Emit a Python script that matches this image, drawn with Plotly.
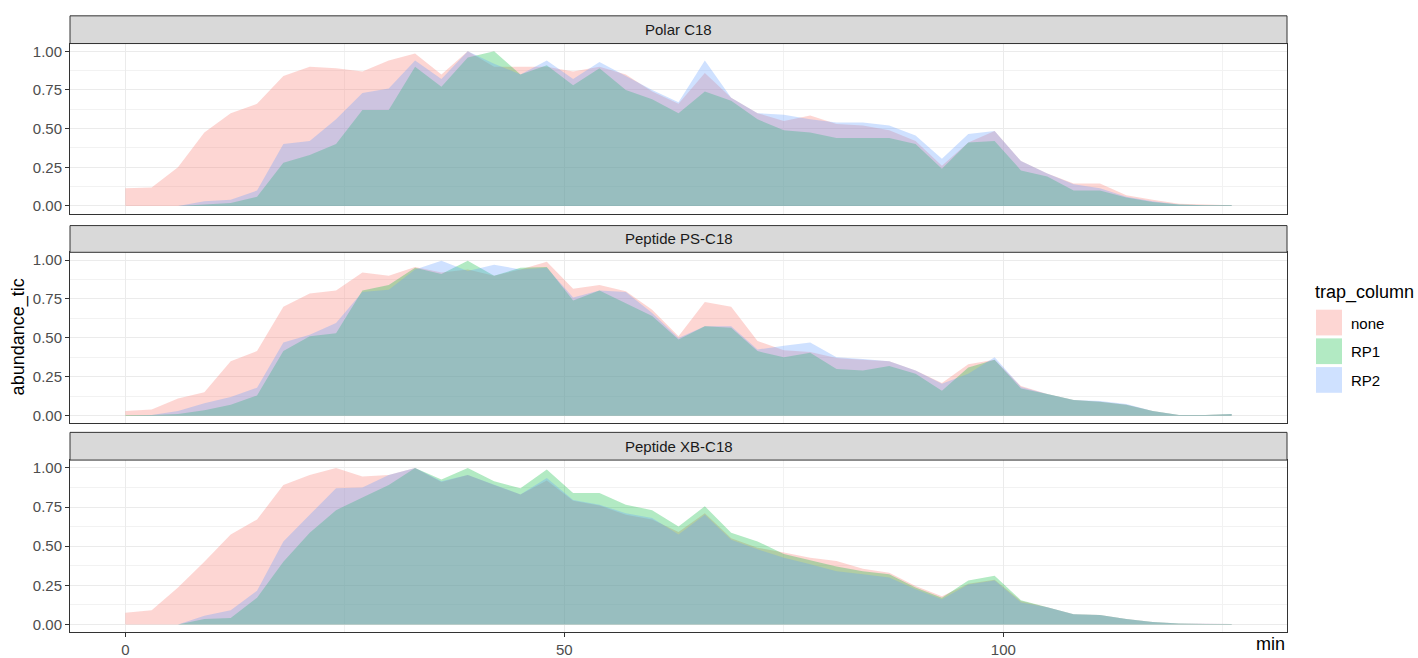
import plotly.graph_objects as go

W, H = 1418, 658

# ---------------- data ----------------
minutes = [0, 3, 6, 9, 12, 15, 18, 21, 24, 27, 30, 33, 36, 39, 42, 45, 48, 51, 54, 57,
           60, 63, 66, 69, 72, 75, 78, 81, 84, 87, 90, 93, 96, 99, 102, 105, 108, 111,
           114, 117, 120, 123, 126]

facets = ["Polar C18", "Peptide PS-C18", "Peptide XB-C18"]
trap_columns = ["none", "RP1", "RP2"]

polar_none = [0.115, 0.12, 0.25, 0.475, 0.60, 0.66, 0.84, 0.90, 0.89, 0.87, 0.94, 0.985, 0.85, 1.0,
              0.90, 0.90, 0.90, 0.87, 0.90, 0.85, 0.74, 0.66, 0.86, 0.70, 0.60, 0.55, 0.585, 0.53,
              0.52, 0.49, 0.42, 0.26, 0.41, 0.485, 0.29, 0.21, 0.145, 0.145, 0.07, 0.04, 0.015,
              0.01, 0.005]
polar_rp1 = [0, 0, 0, 0.01, 0.02, 0.06, 0.28, 0.33, 0.40, 0.62, 0.62, 0.90, 0.77, 0.96, 1.0, 0.85,
             0.91, 0.78, 0.89, 0.75, 0.69, 0.60, 0.74, 0.68, 0.56, 0.49, 0.475, 0.44, 0.44, 0.44,
             0.40, 0.24, 0.41, 0.42, 0.23, 0.19, 0.10, 0.10, 0.055, 0.025, 0.01, 0.005, 0.005]
polar_rp2 = [0, 0, 0, 0.03, 0.04, 0.10, 0.40, 0.42, 0.56, 0.73, 0.76, 0.94, 0.82, 1.0, 0.92, 0.85,
             0.94, 0.82, 0.93, 0.84, 0.75, 0.67, 0.94, 0.70, 0.60, 0.59, 0.56, 0.54, 0.54, 0.52,
             0.455, 0.305, 0.465, 0.485, 0.29, 0.21, 0.14, 0.115, 0.06, 0.03, 0.01, 0.005, 0.005]

ps_none = [0.03, 0.04, 0.11, 0.15, 0.35, 0.415, 0.70, 0.785, 0.805, 0.92, 0.90, 0.955, 0.92, 0.94,
           0.90, 0.94, 0.99, 0.815, 0.84, 0.80, 0.68, 0.51, 0.73, 0.70, 0.48, 0.42, 0.41, 0.37,
           0.36, 0.35, 0.29, 0.21, 0.33, 0.36, 0.19, 0.14, 0.10, 0.09, 0.07, 0.03, 0.005, 0.005,
           0.01]
ps_rp1 = [0.005, 0.005, 0.01, 0.035, 0.07, 0.13, 0.415, 0.51, 0.53, 0.805, 0.84, 0.95, 0.91, 0.995,
          0.90, 0.95, 0.955, 0.74, 0.805, 0.72, 0.64, 0.49, 0.575, 0.565, 0.415, 0.375, 0.405,
          0.30, 0.29, 0.32, 0.27, 0.16, 0.31, 0.36, 0.175, 0.14, 0.10, 0.09, 0.07, 0.03, 0.005,
          0.005, 0.01]
ps_rp2 = [0.0, 0.005, 0.03, 0.08, 0.12, 0.18, 0.47, 0.52, 0.595, 0.795, 0.81, 0.94, 0.995, 0.93,
          0.97, 0.94, 0.95, 0.76, 0.805, 0.795, 0.66, 0.50, 0.575, 0.575, 0.425, 0.45, 0.47,
          0.375, 0.365, 0.35, 0.29, 0.205, 0.27, 0.375, 0.185, 0.14, 0.10, 0.095, 0.075, 0.03,
          0.005, 0.005, 0.01]

xb_none = [0.075, 0.09, 0.235, 0.40, 0.575, 0.67, 0.89, 0.955, 1.0, 0.945, 0.955, 1.0, 0.91, 0.955,
           0.89, 0.83, 0.92, 0.79, 0.76, 0.70, 0.67, 0.59, 0.71, 0.55, 0.49, 0.46, 0.425, 0.405,
           0.355, 0.33, 0.245, 0.18, 0.26, 0.285, 0.15, 0.11, 0.065, 0.06, 0.035, 0.015, 0.005,
           0.002, 0.002]
xb_rp1 = [0, 0, 0, 0.035, 0.04, 0.17, 0.40, 0.585, 0.73, 0.81, 0.89, 1.0, 0.925, 1.0, 0.915, 0.87,
          0.99, 0.84, 0.84, 0.765, 0.73, 0.625, 0.755, 0.585, 0.53, 0.45, 0.41, 0.37, 0.34, 0.32,
          0.235, 0.17, 0.28, 0.31, 0.155, 0.11, 0.065, 0.06, 0.035, 0.015, 0.005, 0.002, 0.002]
xb_rp2 = [0, 0, 0, 0.055, 0.09, 0.215, 0.53, 0.70, 0.87, 0.875, 0.955, 1.0, 0.915, 0.955, 0.89,
          0.83, 0.935, 0.795, 0.765, 0.71, 0.68, 0.575, 0.70, 0.54, 0.48, 0.425, 0.385, 0.34,
          0.32, 0.30, 0.225, 0.16, 0.255, 0.28, 0.14, 0.11, 0.065, 0.06, 0.035, 0.015, 0.005,
          0.002, 0.002]

series = {
    "Polar C18": [polar_none, polar_rp1, polar_rp2],
    "Peptide PS-C18": [ps_none, ps_rp1, ps_rp2],
    "Peptide XB-C18": [xb_none, xb_rp1, xb_rp2],
}

y_ticks = [0, 0.25, 0.5, 0.75, 1.0]
y_ticklabels = ["0.00", "0.25", "0.50", "0.75", "1.00"]
x_ticks = [0, 50, 100]
x_ticklabels = ["0", "50", "100"]

# ---------------- style ----------------
fills = ["rgba(248,118,109,0.3)", "rgba(0,186,56,0.3)", "rgba(97,156,255,0.3)"]
FONT = "Liberation Sans, Arial, Helvetica, sans-serif"


def px(x):
    return x / W


def py(y):
    return 1 - y / H


panel_left, panel_right = 70, 1287
panels_px = [(43, 215), (254, 427), (464, 638)]     # top, bottom of plot area
strips_px = [(15, 43), (227, 254), (436, 464)]       # top, bottom of strip

fig = go.Figure()
layout = dict(
    width=W, height=H,
    margin=dict(l=0, r=0, t=0, b=0),
    paper_bgcolor="white", plot_bgcolor="white",
    showlegend=False,
    font=dict(family=FONT, color="#4D4D4D", size=15),
)

shapes = []
annotations = []

for i, facet in enumerate(facets):
    n = i + 1
    xa = "x" if n == 1 else f"x{n}"
    ya = "y" if n == 1 else f"y{n}"
    for j, tc in enumerate(trap_columns):
        fig.add_trace(go.Scatter(
            x=minutes, y=series[facet][j], name=tc, legendgroup=tc,
            mode="lines", line=dict(width=0), fill="tozeroy",
            fillcolor=fills[j], xaxis=xa, yaxis=ya, hoverinfo="x+y+name",
        ))
    top, bot = panels_px[i]
    is_bottom = (i == len(facets) - 1)
    layout["xaxis" if n == 1 else f"xaxis{n}"] = dict(
        domain=[px(panel_left), px(panel_right)],
        anchor=ya, range=[-6.3, 132.3],
        tickvals=x_ticks, ticktext=x_ticklabels,
        showticklabels=is_bottom, ticks="outside" if is_bottom else "",
        ticklen=4, tickwidth=1, tickcolor="#333333",
        tickfont=dict(size=15, color="#4D4D4D", family=FONT),
        showgrid=True, gridcolor="#EBEBEB", gridwidth=1,
        minor=dict(dtick=25, tick0=0, showgrid=True, gridcolor="#F2F2F2", gridwidth=1, ticks=""),
        showline=True, mirror=True, linecolor="#333333", linewidth=1,
        zeroline=False, fixedrange=True,
        **({} if n == 1 else {"matches": "x"}),
    )
    layout["yaxis" if n == 1 else f"yaxis{n}"] = dict(
        domain=[py(bot), py(top)],
        anchor=xa, range=[-0.05, 1.05],
        tickvals=y_ticks, ticktext=y_ticklabels,
        ticks="outside", ticklen=4, tickwidth=1, tickcolor="#333333",
        tickfont=dict(size=15, color="#4D4D4D", family=FONT),
        showgrid=True, gridcolor="#EBEBEB", gridwidth=1,
        minor=dict(dtick=0.125, tick0=0, showgrid=True, gridcolor="#F2F2F2", gridwidth=1, ticks=""),
        showline=True, mirror=True, linecolor="#333333", linewidth=1,
        zeroline=False, fixedrange=True,
    )
    # strip
    s_top, s_bot = strips_px[i]
    shapes.append(dict(type="rect", xref="paper", yref="paper",
                       x0=px(panel_left), x1=px(panel_right), y0=py(s_bot), y1=py(s_top),
                       fillcolor="#D9D9D9", line=dict(color="#333333", width=1), layer="above"))
    annotations.append(dict(xref="paper", yref="paper",
                            x=px((panel_left + panel_right) / 2), y=py((s_top + s_bot) / 2),
                            text=facet, showarrow=False, xanchor="center", yanchor="middle",
                            font=dict(size=15, color="#1A1A1A", family=FONT)))

# axis titles
annotations.append(dict(xref="paper", yref="paper", x=px(18), y=py(340),
                        text="abundance_tic", textangle=-90, showarrow=False,
                        xanchor="center", yanchor="middle",
                        font=dict(size=18, color="#000000", family=FONT)))
annotations.append(dict(xref="paper", yref="paper", x=px(1287), y=py(650),
                        text="min", showarrow=False, xanchor="right", yanchor="middle",
                        font=dict(size=18, color="#000000", family=FONT)))

# legend (drawn manually to match ggplot's key boxes)
annotations.append(dict(xref="paper", yref="paper", x=px(1313), y=py(295),
                        text="trap_column", showarrow=False, xanchor="left", yanchor="middle",
                        font=dict(size=18, color="#000000", family=FONT)))
key_tops = [312, 341, 370]
for j, tc in enumerate(trap_columns):
    kt = key_tops[j]
    shapes.append(dict(type="rect", xref="paper", yref="paper",
                       x0=px(1316), x1=px(1342), y0=py(kt + 26), y1=py(kt),
                       fillcolor=fills[j], line=dict(width=0)))
    annotations.append(dict(xref="paper", yref="paper", x=px(1349), y=py(kt + 13.5),
                            text=tc, showarrow=False, xanchor="left", yanchor="middle",
                            font=dict(size=15, color="#000000", family=FONT)))

layout["shapes"] = shapes
layout["annotations"] = annotations
fig.update_layout(**layout)

fig.write_html("out.html")
